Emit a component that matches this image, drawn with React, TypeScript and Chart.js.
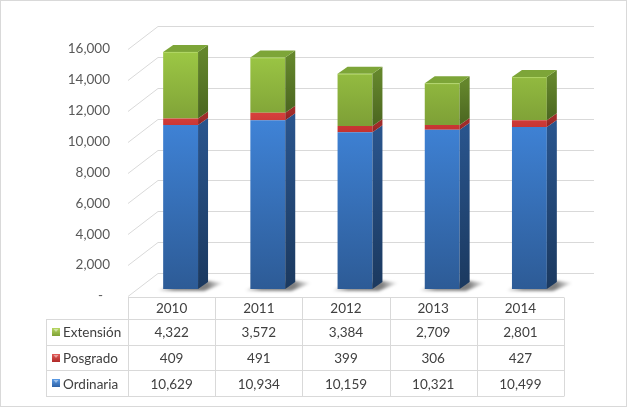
import { useEffect, useRef } from 'react';
import { Chart, registerables } from 'chart.js';

Chart.register(...registerables);

const YEARS = ['2010', '2011', '2012', '2013', '2014'];
const ORDINARIA = [10629, 10934, 10159, 10321, 10499];
const POSGRADO = [409, 491, 399, 306, 427];
const EXTENSION = [4322, 3572, 3384, 2709, 2801];
const Y_MAX = 16000;
const Y_STEP = 2000;

const FONT = 'Lato, "Open Sans", sans-serif';
const GRID = '#D9D9D9';

// full depth of the floor / walls
const DEPTH_X = 30;
const DEPTH_Y = -23;
// where the bars sit inside that depth, and how deep they are
const BAR_SHIFT_X = 9;
const BAR_SHIFT_Y = -7;
const BAR_DX = 10;
const BAR_DY = -7;

type Face = { front: [string, string]; side: [string, string]; key: [string, string]; range: [number, number] };

const FACES: Face[] = [
  { front: ['#3F83D7', '#2D5B96'], side: ['#29548C', '#1B395F'], key: ['#5A9BE6', '#2F62A6'], range: [11000, 0] },
  { front: ['#D8413E', '#C0302E'], side: ['#A02C2A', '#8A2020'], key: ['#E05A57', '#B02A28'], range: [11500, 10000] },
  { front: ['#9DC845', '#7D9F36'], side: ['#64862C', '#4B6620'], key: ['#B6D660', '#7FA236'], range: [15500, 10500] },
];

const fmt = (v: number) => v.toLocaleString('en-US');

function frontFill(chart: Chart, i: number) {
  const area = chart.chartArea;
  const y = chart.scales.y;
  if (!area || !y) return FACES[i].front[0];
  const g = chart.ctx.createLinearGradient(0, y.getPixelForValue(FACES[i].range[0]), 0, y.getPixelForValue(FACES[i].range[1]));
  g.addColorStop(0, FACES[i].front[0]);
  g.addColorStop(1, FACES[i].front[1]);
  return g;
}

const box3d = {
  id: 'box3d',
  beforeDatasetsDraw(chart: Chart) {
    const { ctx, chartArea: a } = chart;
    const y = chart.scales.y;
    ctx.save();
    ctx.strokeStyle = GRID;
    ctx.lineWidth = 1;
    y.ticks.forEach((t) => {
      const py = Math.round(y.getPixelForValue(t.value)) + 0.5;
      ctx.beginPath();
      ctx.moveTo(a.left, py);
      ctx.lineTo(a.left + DEPTH_X, py + DEPTH_Y);
      ctx.lineTo(a.right + DEPTH_X, py + DEPTH_Y);
      ctx.stroke();
    });
    // soft shadows on the floor
    const meta = chart.getDatasetMeta(0);
    ctx.filter = 'blur(1.5px)';
    meta.data.forEach((el: any) => {
      const { x, base, width } = el.getProps(['x', 'base', 'width'], true);
      const l = x - width / 2 + BAR_SHIFT_X;
      const r = x + width / 2 + BAR_SHIFT_X;
      const b = base + BAR_SHIFT_Y;
      const g = ctx.createLinearGradient(l - 6, 0, r + BAR_DX + 16, 0);
      g.addColorStop(0, 'rgba(0,0,0,0)');
      g.addColorStop(0.25, 'rgba(0,0,0,0.45)');
      g.addColorStop(0.75, 'rgba(0,0,0,0.5)');
      g.addColorStop(1, 'rgba(0,0,0,0)');
      ctx.fillStyle = g;
      ctx.beginPath();
      ctx.moveTo(l - 6, b + 2);
      ctx.lineTo(r + 6, b + 2);
      ctx.lineTo(r + BAR_DX + 16, b + BAR_DY + 1);
      ctx.lineTo(r + BAR_DX, b + BAR_DY - 1);
      ctx.lineTo(l, b - 1);
      ctx.closePath();
      ctx.fill();
    });
    ctx.restore();
    ctx.save();
    ctx.translate(BAR_SHIFT_X, BAR_SHIFT_Y);
  },
  afterDatasetsDraw(chart: Chart) {
    const { ctx } = chart;
    const last = chart.data.datasets.length - 1;
    chart.data.datasets.forEach((_, di) => {
      const meta = chart.getDatasetMeta(di);
      meta.data.forEach((el: any) => {
        const { x, y, base, width } = el.getProps(['x', 'y', 'base', 'width'], true);
        const l = x - width / 2;
        const r = x + width / 2;
        const top = Math.min(y, base);
        const bot = Math.max(y, base);
        const sg = ctx.createLinearGradient(0, top, 0, bot);
        sg.addColorStop(0, FACES[di].side[0]);
        sg.addColorStop(1, FACES[di].side[1]);
        ctx.fillStyle = sg;
        ctx.beginPath();
        ctx.moveTo(r, top);
        ctx.lineTo(r + BAR_DX, top + BAR_DY);
        ctx.lineTo(r + BAR_DX, bot + BAR_DY);
        ctx.lineTo(r, bot);
        ctx.closePath();
        ctx.fill();
        if (di === last) {
          ctx.fillStyle = '#7DA538';
          ctx.beginPath();
          ctx.moveTo(l, top);
          ctx.lineTo(l + BAR_DX, top + BAR_DY);
          ctx.lineTo(r + BAR_DX, top + BAR_DY);
          ctx.lineTo(r, top);
          ctx.closePath();
          ctx.fill();
          ctx.strokeStyle = 'rgba(190,225,120,0.7)';
          ctx.lineWidth = 1;
          ctx.beginPath();
          ctx.moveTo(l + 0.5, top + 0.5);
          ctx.lineTo(r - 0.5, top + 0.5);
          ctx.stroke();
        }
      });
    });
    ctx.restore();
  },
  afterDraw(chart: Chart) {
    const { ctx, chartArea: a } = chart;
    const n = YEARS.length;
    const colW = (a.right - a.left) / n;
    const top = a.bottom + 1;
    const rows = [22, 25.7, 25.7, 25.7];
    const ys = [top];
    rows.forEach((h) => ys.push(ys[ys.length - 1] + h));
    const legendLeft = 46;
    const px = (v: number) => Math.round(v) + 0.5;

    ctx.save();
    ctx.strokeStyle = GRID;
    ctx.lineWidth = 1;
    ctx.beginPath();
    ys.forEach((yy, i) => {
      ctx.moveTo(i === 0 ? a.left : legendLeft, px(yy));
      ctx.lineTo(a.right, px(yy));
    });
    for (let k = 0; k <= n; k++) {
      const xx = px(a.left + colW * k);
      ctx.moveTo(xx, px(ys[0]));
      ctx.lineTo(xx, px(ys[ys.length - 1]));
    }
    ctx.moveTo(px(legendLeft), px(ys[1]));
    ctx.lineTo(px(legendLeft), px(ys[ys.length - 1]));
    ctx.stroke();

    ctx.font = `13.5px ${FONT}`;
    ctx.fillStyle = '#404040';
    ctx.textBaseline = 'middle';
    ctx.textAlign = 'center';
    YEARS.forEach((yr, i) => {
      ctx.fillText(yr, a.left + colW * (i + 0.5), (ys[0] + ys[1]) / 2 + 1);
    });

    const order = [2, 1, 0];
    order.forEach((di, r) => {
      const ds = chart.data.datasets[di];
      const cy = (ys[r + 1] + ys[r + 2]) / 2 + 1;
      (ds.data as number[]).forEach((v, i) => {
        ctx.textAlign = 'center';
        ctx.fillStyle = '#404040';
        ctx.fillText(fmt(v), a.left + colW * (i + 0.5), cy);
      });
      // legend key
      const kx = 52;
      const ky = Math.round(cy) - 5;
      const kg = ctx.createLinearGradient(0, ky, 0, ky + 8);
      kg.addColorStop(0, FACES[di].key[0]);
      kg.addColorStop(1, FACES[di].key[1]);
      ctx.fillStyle = kg;
      ctx.fillRect(kx, ky, 8, 8);
      ctx.fillStyle = 'rgba(255,255,255,0.45)';
      ctx.beginPath();
      ctx.moveTo(kx + 1.5, ky + 1);
      ctx.lineTo(kx + 6.5, ky + 1);
      ctx.lineTo(kx + 4, ky + 4);
      ctx.closePath();
      ctx.fill();
      ctx.textAlign = 'left';
      ctx.fillStyle = '#404040';
      ctx.fillText(ds.label as string, 63, cy);
    });

    ctx.strokeStyle = GRID;
    ctx.strokeRect(0.5, 0.5, chart.width - 2, chart.height - 2);
    ctx.restore();
  },
};

export default function App() {
  const ref = useRef<HTMLCanvasElement>(null);

  useEffect(() => {
    document.body.style.margin = '0';
    if (!ref.current) return;
    const series = [
      { label: 'Ordinaria', data: ORDINARIA },
      { label: 'Posgrado', data: POSGRADO },
      { label: 'Extensión', data: EXTENSION },
    ];
    const chart = new Chart(ref.current, {
      type: 'bar',
      data: {
        labels: YEARS,
        datasets: series.map((s, i) => ({
          label: s.label,
          data: s.data,
          backgroundColor: (c: any) => frontFill(c.chart, i),
          borderWidth: 0,
          barPercentage: 0.4,
          categoryPercentage: 1,
          clip: false as any,
        })),
      },
      options: {
        responsive: false,
        animation: false,
        layout: { padding: { left: 0, right: 64, top: 49, bottom: 112 } },
        scales: {
          x: { display: false, stacked: true },
          y: {
            stacked: true,
            min: 0,
            max: Y_MAX,
            afterFit: (scale: any) => {
              scale.width = 128;
            },
            grid: { display: false, drawTicks: false },
            border: { display: false },
            ticks: {
              stepSize: Y_STEP,
              padding: 18,
              color: '#595959',
              font: { family: FONT, size: 13.5 },
              callback: (v: any) => (Number(v) === 0 ? '-  ' : fmt(Number(v))),
            },
          },
        },
        plugins: {
          legend: { display: false },
          tooltip: { enabled: false },
        },
      },
      plugins: [box3d],
    });
    return () => chart.destroy();
  }, []);

  return (
    <div style={{ width: 628, height: 408 }}>
      <canvas ref={ref} width={628} height={408} style={{ display: 'block' }} />
    </div>
  );
}
